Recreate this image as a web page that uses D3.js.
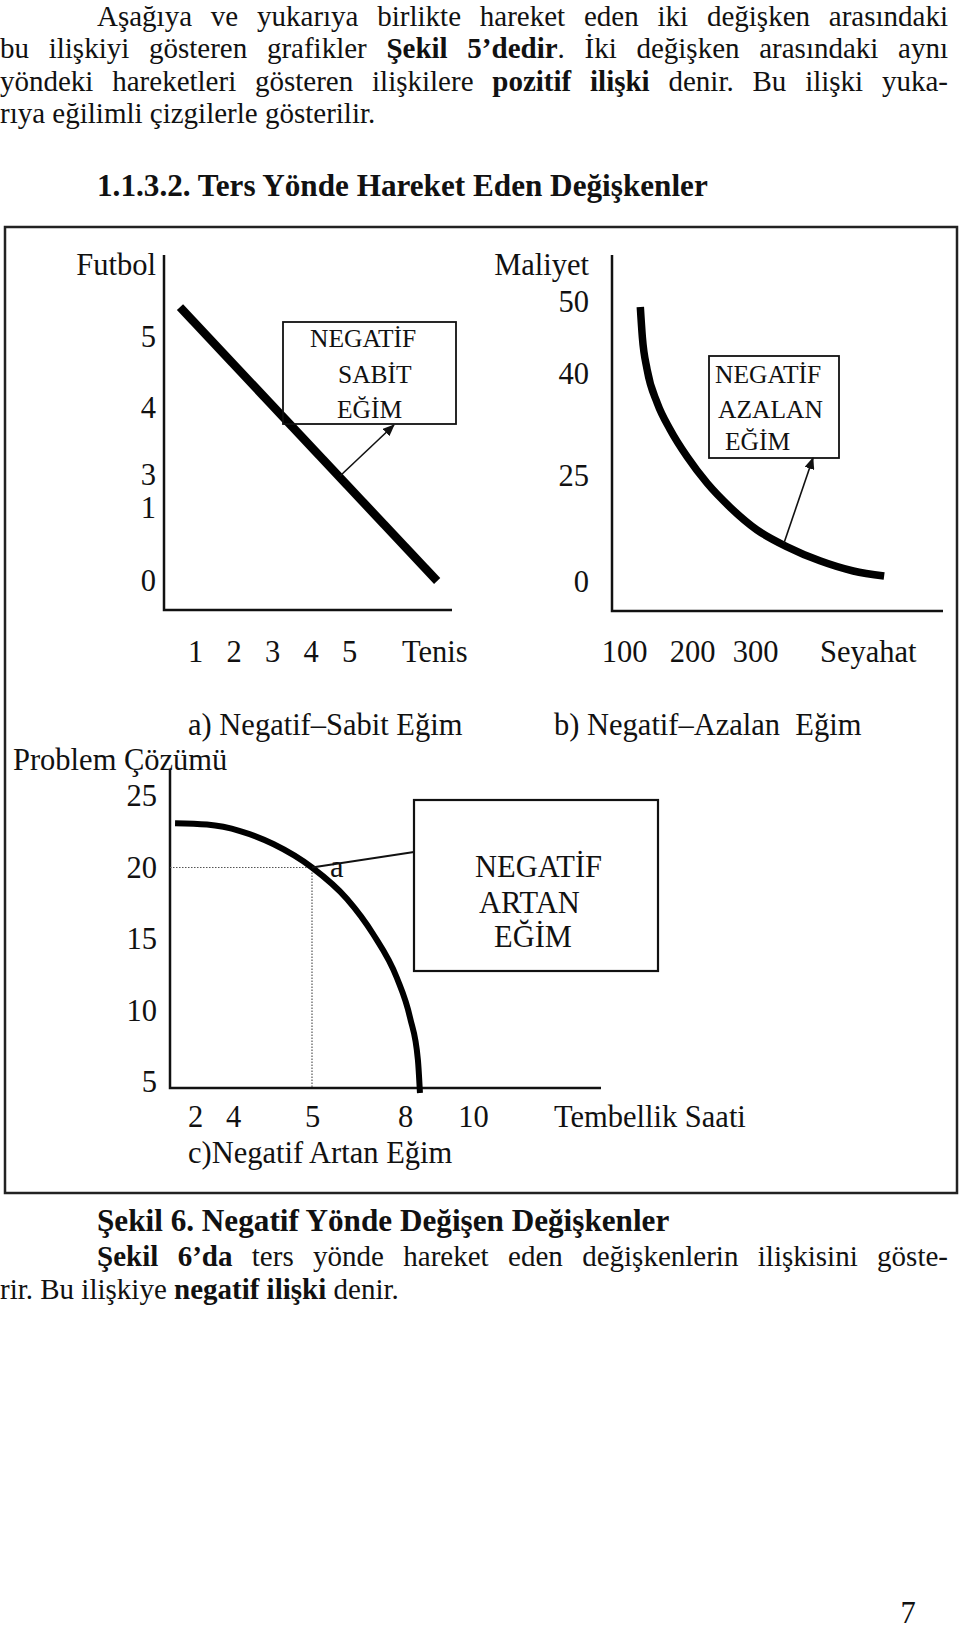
<!DOCTYPE html>
<html>
<head>
<meta charset="utf-8">
<script src="https://cdnjs.cloudflare.com/ajax/libs/d3/7.8.5/d3.min.js"></script>
<style>
  body { margin: 0; background: #fff; }
  text { font-family: "Liberation Serif", "Times New Roman", serif; fill: #111; }
</style>
</head>
<body>
<div id="page"></div>
<script>
// a) Futbol / Tenis
const tenisTicks = [1, 2, 3, 4, 5]
const futbolTicks = [5, 4, 3, 1, 0]
const lineA = [{x: 0.61, y: 5.42}, {x: 7.29, y: 0}]

// b) Maliyet / Seyahat
const seyahatTicks = [100, 200, 300]
const maliyetTicks = [50, 40, 25, 0]
const curveB = [
  {x: 124, y: 49.3}, {x: 127, y: 45.1}, {x: 134, y: 40.6}, {x: 149, y: 35.7},
  {x: 168, y: 31.8}, {x: 193, y: 27.8}, {x: 224, y: 23.3}, {x: 260, y: 17.7},
  {x: 303, y: 12.3}, {x: 351, y: 8.3}, {x: 403, y: 5.0}, {x: 456, y: 2.6},
  {x: 505, y: 1.4}
]

// c) Problem Çözümü / Tembellik Saati
const tembellikTicks = [2, 4, 5, 8, 10]
const problemTicks = [25, 20, 15, 10, 5]
const curveC = [
  {x: 0.95, y: 23.1}, {x: 2.63, y: 23.0}, {x: 4.09, y: 22.55}, {x: 4.51, y: 21.64},
  {x: 5.0, y: 20.0}, {x: 6.13, y: 17.8}, {x: 6.97, y: 15.35}, {x: 7.74, y: 12.27},
  {x: 8.15, y: 9.48}, {x: 8.38, y: 6.54}, {x: 8.44, y: 4.23}
]
const pointA = {x: 5, y: 20}

const fs = 30.5
const bodyFs = 29
const R = 948

const svg = d3.select("#page")
  .append("svg")
    .attr("width", 960)
    .attr("height", 1632)

svg.append("defs").append("marker")
    .attr("id", "arrow")
    .attr("markerUnits", "userSpaceOnUse")
    .attr("markerWidth", 12)
    .attr("markerHeight", 10)
    .attr("refX", 11)
    .attr("refY", 5)
    .attr("orient", "auto")
  .append("path")
    .attr("d", "M0,0 L12,5 L0,10 z")
    .attr("fill", "#111")

// page text, lines with bold pieces
function textLine(l) {
  const t = svg.append("text")
    .attr("x", l.x)
    .attr("y", l.y)
    .attr("font-size", l.size || bodyFs)
  l.parts.forEach(p => {
    t.append("tspan")
      .attr("font-weight", p[1] ? "bold" : null)
      .text(p[0])
  })
  if (l.just) {
    const w = t.node().getComputedTextLength()
    const spaces = (t.text().match(/ /g) || []).length
    t.attr("word-spacing", (R - l.x - w) / spaces)
  }
}

const lines = [
  {x: 97, y: 26, just: true, parts: [["Aşağıya ve yukarıya birlikte hareket eden iki değişken arasındaki"]]},
  {x: 0, y: 58.3, just: true, parts: [["bu ilişkiyi gösteren grafikler "], ["Şekil 5’dedir", true], [". İki değişken arasındaki aynı"]]},
  {x: 0, y: 90.6, just: true, parts: [["yöndeki hareketleri gösteren ilişkilere "], ["pozitif ilişki", true], [" denir. Bu ilişki yuka-"]]},
  {x: 0, y: 122.9, parts: [["rıya eğilimli çizgilerle gösterilir."]]},
  {x: 97, y: 196, size: 31.2, parts: [["1.1.3.2. Ters Yönde Hareket Eden Değişkenler", true]]},
  {x: 97, y: 1231, size: 31.2, parts: [["Şekil 6. Negatif Yönde Değişen Değişkenler", true]]},
  {x: 97, y: 1266, just: true, parts: [["Şekil 6’da", true], [" ters yönde hareket eden değişkenlerin ilişkisini göste-"]]},
  {x: 0, y: 1299, parts: [["rir. Bu ilişkiye "], ["negatif ilişki", true], [" denir."]]}
]
lines.forEach(textLine)

svg.append("text")
    .attr("x", 908)
    .attr("y", 1623)
    .attr("text-anchor", "middle")
    .attr("font-size", fs)
    .text("7")

// frame round the figure
svg.append("rect")
    .attr("x", 5)
    .attr("y", 227)
    .attr("width", 952)
    .attr("height", 966)
    .attr("fill", "none")
    .attr("stroke", "#222")
    .attr("stroke-width", 2.5)

// scales (tick spacing in the figure is hand drawn, so some are piecewise)
const xA = d3.scaleLinear().domain([1, 5]).range([195, 349])
const yA = d3.scaleLinear().domain(futbolTicks).range([337, 408, 475, 508, 581])
const xB = d3.scaleLinear().domain(seyahatTicks).range([624, 692, 755])
const yB = d3.scaleLinear().domain(maliyetTicks).range([302, 374, 476, 582])
const xC = d3.scaleLinear().domain(tembellikTicks).range([195, 233, 312, 405, 473])
const yC = d3.scaleLinear().domain([5, 25]).range([1082, 796])

function axisLines(p) {
  svg.append("path")
    .attr("d", `M${p.x0},${p.top} V${p.bottom} H${p.x1}`)
    .attr("fill", "none")
    .attr("stroke", "#111")
    .attr("stroke-width", 2.5)
}

function tickLabels(axis, tx, ty, dy) {
  const g = svg.append("g")
    .attr("transform", `translate(${tx},${ty})`)
    .call(axis.tickSize(0).tickPadding(0).tickFormat(d3.format("d")))
  g.select(".domain").remove()
  g.selectAll("text")
    .attr("font-size", fs)
    .attr("font-family", "Liberation Serif")
    .attr("fill", "#111")
  if (dy != null) g.selectAll("text").attr("dy", dy)
}

function label(txt, x, y, size, anchor) {
  svg.append("text")
    .attr("x", x)
    .attr("y", y)
    .attr("font-size", size || fs)
    .attr("text-anchor", anchor || "start")
    .text(txt)
}

function box(x, y, w, h, sw) {
  svg.append("rect")
    .attr("x", x).attr("y", y)
    .attr("width", w).attr("height", h)
    .attr("fill", "none")
    .attr("stroke", "#111")
    .attr("stroke-width", sw)
}

// ---- a) Negatif Sabit Eğim
axisLines({x0: 164, top: 255, bottom: 610, x1: 452})
tickLabels(d3.axisLeft(yA).tickValues(futbolTicks), 156, 0)
tickLabels(d3.axisBottom(xA).tickValues(tenisTicks), 0, 662, "0")
label("Futbol", 156, 275, fs, "end")
label("Tenis", 402, 662)

svg.append("path")
    .datum(lineA)
    .attr("d", d3.line().x(d => xA(d.x)).y(d => yA(d.y)))
    .attr("stroke", "#000")
    .attr("stroke-width", 8.5)
    .attr("fill", "none")

box(283, 322, 173, 102, 1.8)
label("NEGATİF", 310, 347, 25.5)
label("SABİT", 338, 383, 25.5)
label("EĞİM", 337, 418, 25.5)
svg.append("line")
    .attr("x1", 340).attr("y1", 476)
    .attr("x2", 394).attr("y2", 425)
    .attr("stroke", "#111")
    .attr("stroke-width", 1.6)
    .attr("marker-end", "url(#arrow)")

label("a) Negatif–Sabit Eğim", 188, 735)

// ---- b) Negatif Azalan Eğim
axisLines({x0: 612, top: 255, bottom: 611, x1: 943})
tickLabels(d3.axisLeft(yB).tickValues(maliyetTicks), 589, 0)
tickLabels(d3.axisBottom(xB).tickValues(seyahatTicks), 0, 662, "0")
label("Maliyet", 589, 275, fs, "end")
label("Seyahat", 820, 662)

svg.append("path")
    .datum(curveB)
    .attr("d", d3.line().x(d => xB(d.x)).y(d => yB(d.y)).curve(d3.curveMonotoneX))
    .attr("stroke", "#000")
    .attr("stroke-width", 7.5)
    .attr("fill", "none")

box(709, 356, 130, 102, 1.8)
label("NEGATİF", 715, 383, 25.5)
label("AZALAN", 718, 418, 25.5)
label("EĞİM", 725, 450, 25.5)
svg.append("line")
    .attr("x1", 784).attr("y1", 543)
    .attr("x2", 813).attr("y2", 458)
    .attr("stroke", "#111")
    .attr("stroke-width", 1.6)
    .attr("marker-end", "url(#arrow)")

label("b) Negatif–Azalan\u00a0 Eğim", 554, 735)

// ---- c) Negatif Artan Eğim
label("Problem Çözümü", 13, 770)
axisLines({x0: 170, top: 770, bottom: 1088, x1: 601})
tickLabels(d3.axisLeft(yC).tickValues(problemTicks), 157, 0)
tickLabels(d3.axisBottom(xC).tickValues(tembellikTicks), 0, 1127, "0")
label("Tembellik Saati", 554, 1127)
label("c)Negatif Artan Eğim", 188, 1163)

// dotted guides to point a
svg.append("path")
    .attr("d", `M${xC.range()[0] - 25},${yC(pointA.y)} H${xC(pointA.x)} V${yC.range()[0] + 6}`)
    .attr("fill", "none")
    .attr("stroke", "#555")
    .attr("stroke-width", 1.2)
    .attr("stroke-dasharray", "1.5,1.5")

svg.append("path")
    .datum(curveC)
    .attr("d", d3.line().x(d => xC(d.x)).y(d => yC(d.y)).curve(d3.curveMonotoneX))
    .attr("stroke", "#000")
    .attr("stroke-width", 6)
    .attr("fill", "none")

label("a", 330, 877)
svg.append("line")
    .attr("x1", xC(pointA.x)).attr("y1", yC(pointA.y))
    .attr("x2", 414).attr("y2", 852)
    .attr("stroke", "#111")
    .attr("stroke-width", 2)

box(414, 800, 244, 171, 2.2)
label("NEGATİF", 475, 877)
label("ARTAN", 479, 913)
label("EĞİM", 494, 947)
</script>
</body>
</html>
